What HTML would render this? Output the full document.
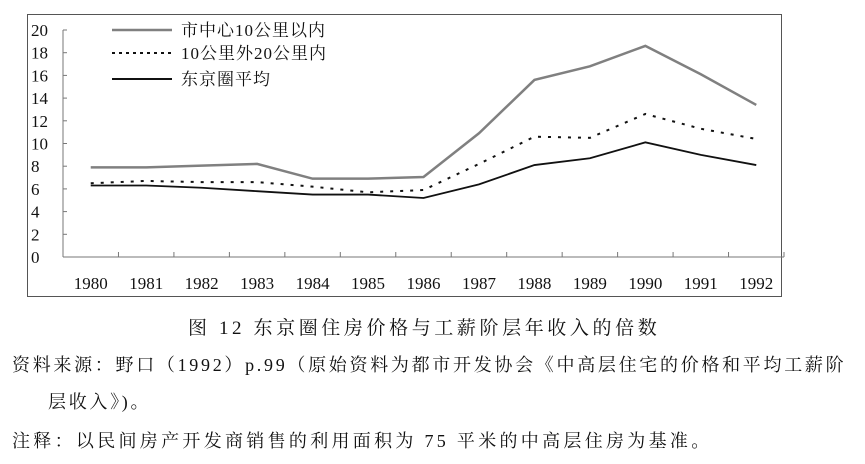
<!DOCTYPE html>
<html><head><meta charset="utf-8"><style>
body{margin:0;background:#fff;width:865px;height:464px;overflow:hidden;font-family:"Liberation Serif","Noto Serif CJK SC",serif;}
.t{position:absolute;white-space:nowrap;color:#111;font-size:18px;}
</style></head><body>
<svg width="865" height="300" style="position:absolute;left:0;top:0" font-family="Liberation Serif, Noto Serif CJK SC, serif">
<rect x="27.5" y="14.5" width="754" height="282" fill="none" stroke="#555" stroke-width="1"/>
<g id="axes"></g><g id="series"></g>
<g font-size="17" fill="#111">
<line x1="112" y1="30" x2="172" y2="30" stroke="#808080" stroke-width="2.5"/>
<text x="181" y="36" letter-spacing="1">市中心10公里以内</text>
<line x1="112" y1="53" x2="172" y2="53" stroke="#111" stroke-width="2" stroke-dasharray="3,4"/>
<text x="181" y="59" letter-spacing="1">10公里外20公里内</text>
<line x1="112" y1="79" x2="172" y2="79" stroke="#111" stroke-width="2"/>
<text x="181" y="85" letter-spacing="1">东京圈平均</text>
</g>
</svg>
<div class="t" style="left:188px;top:313px;font-size:19px;letter-spacing:3.6px">图 12 东京圈住房价格与工薪阶层年收入的倍数</div>
<div class="t" style="left:12px;top:351px;letter-spacing:2.7px">资料来源：野口（1992）p.99（原始资料为都市开发协会《中高层住宅的价格和平均工薪阶</div>
<div class="t" style="left:48px;top:388px;letter-spacing:2.7px">层收入》)。</div>
<div class="t" style="left:12px;top:427px;letter-spacing:3.3px">注释：以民间房产开发商销售的利用面积为 75 平米的中高层住房为基准。</div>
<script>
const years=["1980","1981","1982","1983","1984","1985","1986","1987","1988","1989","1990","1991","1992"];
const yTicks=[0,2,4,6,8,10,12,14,16,18,20];
const center=[7.9,7.9,8.05,8.2,6.9,6.9,7.05,10.9,15.6,16.8,18.6,16.1,13.4];
const middle=[6.5,6.7,6.6,6.6,6.2,5.7,5.9,8.2,10.6,10.5,12.6,11.3,10.4];
const average=[6.3,6.3,6.1,5.8,5.5,5.5,5.2,6.4,8.1,8.7,10.1,9.0,8.1];
const NS="http://www.w3.org/2000/svg";
const x0=63,x1=784,y0=257,yTop=30,ymax=20;
const step=(x1-x0)/years.length;
const X=i=>x0+step*(i+0.5);
const Y=v=>y0-(y0-yTop)*v/ymax;
function mk(tag,attrs,parent){const e=document.createElementNS(NS,tag);for(const k in attrs)e.setAttribute(k,attrs[k]);parent.appendChild(e);return e;}
const ax=document.getElementById('axes');
let l=mk('line',{x1:x0,y1:Y(20),x2:x0,y2:y0,stroke:'#777'},ax);


l=mk('line',{x1:x0,y1:y0,x2:x1,y2:y0,stroke:'#777'},ax);


yTicks.forEach(v=>{
 mk('line',{x1:x0,y1:Y(v),x2:x0+4,y2:Y(v),stroke:'#777'},ax);
 const t=mk('text',{x:31,y:Y(v)+6,'font-size':17,fill:'#111'},ax);t.textContent=v;
 
 
});
years.forEach((yr,i)=>{
 mk('line',{x1:x0+step*(i+1),y1:y0,x2:x0+step*(i+1),y2:y0-5,stroke:'#777'},ax);
 const t=mk('text',{x:X(i),y:289,'font-size':17,fill:'#111','text-anchor':'middle'},ax);t.textContent=yr;
 
 
});
const sg=document.getElementById('series');
function line(vals,name,attrs){
 const p=mk('polyline',Object.assign({points:vals.map((v,i)=>X(i)+','+Y(v)).join(' '),fill:'none'},attrs),sg);
 
 
}
line(center,'series-city-center',{stroke:'#808080','stroke-width':2.5});
line(middle,'series-10-20km',{stroke:'#111','stroke-width':2,'stroke-dasharray':'3,7'});
line(average,'series-tokyo-average',{stroke:'#111','stroke-width':1.8});
</script>
</body></html>
